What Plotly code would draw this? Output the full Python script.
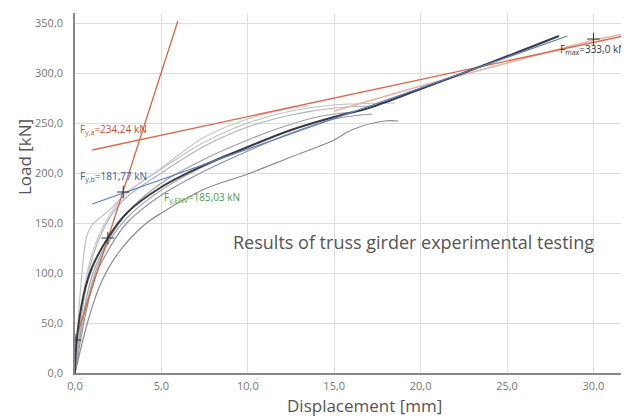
import plotly.graph_objects as go

# ---- data (displacement mm, load kN) ----
test_a_x = [0, 0.3, 0.7, 1.0, 2.0, 3.0, 5.0, 7.5, 10.0, 12.5, 15.0, 18.5]
test_a_y = [0, 80, 138, 148, 163, 180, 204, 231, 250, 262, 268, 270]
test_b_x = [0, 0.4, 1.0, 2.0, 3.0, 5.0, 7.5, 10.0, 12.5, 15.0, 17.0]
test_b_y = [0, 60, 115, 155, 176, 200, 227, 246, 258, 265, 267]
test_c_x = [0, 0.5, 1.0, 2.0, 3.0, 5.0, 7.5, 10.0, 12.0, 14.0, 16.0]
test_c_y = [0, 60, 98, 135, 160, 190, 214, 233, 246, 256, 261]
test_d_x = [0, 0.6, 1.2, 2.0, 3.0, 5.0, 7.5, 10.0, 12.5, 15.0, 17.2]
test_d_y = [0, 58, 98, 125, 150, 178, 202, 222, 240, 254, 259]
test_e_x = [0, 0.8, 1.5, 2.5, 4.0, 5.0, 7.5, 10.0, 12.5, 15.0, 16.0, 17.9, 18.7]
test_e_y = [0, 55, 90, 120, 148, 160, 184, 199, 216, 233, 243, 252, 252]
test_f_x = [0, 0.4, 1.0, 2.0, 3.0, 5.0, 7.5, 10.0, 12.0, 13.5]
test_f_y = [0, 70, 120, 158, 180, 205, 236, 254, 263, 267]
test_g_x = [0, 0.5, 1.2, 2.0, 3.0, 5.0, 7.5, 10.0, 12.5, 15.0]
test_g_y = [0, 55, 102, 132, 155, 183, 207, 226, 243, 256]

mean_x = [0, 0.1, 0.5, 1.0, 1.9, 3.0, 5.0, 7.5, 10.0, 12.5, 15.0, 17.0, 20.0, 24.0, 28.0]
mean_y = [0, 33, 78, 106, 135, 160, 186, 208, 226, 243, 256, 265, 284, 310, 337]

env_x = [15.0, 20.0, 25.0, 30.0, 32.0]
env_y = [262, 287, 310, 333, 340]

red_steep_x = [0.0, 5.95]
red_steep_y = [32, 352]
red_flat_x = [1.0, 32.0]
red_flat_y = [223, 338]
blue_x = [1.0, 28.5]
blue_y = [169, 337]

mark_x = [0.0, 1.9, 2.79, 30.0]
mark_y = [33, 135, 181, 334]

x_ticks = [0, 5, 10, 15, 20, 25, 30]
y_ticks = [0, 50, 100, 150, 200, 250, 300, 350]

fig = go.Figure()

tests = [
    (test_a_x, test_a_y, "#c2c2c2"),
    (test_b_x, test_b_y, "#a9b4c4"),
    (test_c_x, test_c_y, "#a0a0a0"),
    (test_d_x, test_d_y, "#8d94a8"),
    (test_e_x, test_e_y, "#8a8a8a"),
    (test_f_x, test_f_y, "#c8c8c8"),
    (test_g_x, test_g_y, "#aaaaaa"),
]
for tx, ty, c in tests:
    fig.add_trace(go.Scatter(x=tx, y=ty, mode="lines",
                             line=dict(color=c, width=1.2, shape="spline"),
                             showlegend=False, hoverinfo="skip"))

fig.add_trace(go.Scatter(x=env_x, y=env_y, mode="lines",
                         line=dict(color="#e6b3a0", width=1.5), showlegend=False))
fig.add_trace(go.Scatter(x=red_steep_x, y=red_steep_y, mode="lines",
                         line=dict(color="#d9663f", width=1.3), showlegend=False))
fig.add_trace(go.Scatter(x=red_flat_x, y=red_flat_y, mode="lines",
                         line=dict(color="#e0674a", width=1.3), showlegend=False))
fig.add_trace(go.Scatter(x=mean_x, y=mean_y, mode="lines",
                         line=dict(color="#3a3a44", width=2, shape="spline"),
                         showlegend=False))
fig.add_trace(go.Scatter(x=blue_x, y=blue_y, mode="lines",
                         line=dict(color="#5b7fc0", width=1.3), showlegend=False))
fig.add_trace(go.Scatter(x=mark_x, y=mark_y, mode="markers",
                         marker=dict(symbol="cross-thin", size=9,
                                     line=dict(color="#333333", width=1)),
                         showlegend=False))

fs = 10
fig.add_annotation(x=0.15, y=244, text="F<sub>y,a</sub>=234,24 kN", showarrow=False,
                   xanchor="left", font=dict(size=fs, color="#c8502a"))
fig.add_annotation(x=0.15, y=197, text="F<sub>y,b</sub>=181,77 kN", showarrow=False,
                   xanchor="left", font=dict(size=fs, color="#3b5a9a"))
fig.add_annotation(x=5.05, y=176, text="F<sub>y,ENV</sub>=185,03 kN", showarrow=False,
                   xanchor="left", font=dict(size=fs, color="#4c9a44"))
fig.add_annotation(x=32, y=324, text="F<sub>max</sub>=333,0 kN", showarrow=False,
                   xanchor="right", font=dict(size=fs, color="#333333"))
fig.add_annotation(x=19.6, y=131, text="Results of truss girder experimental testing",
                   showarrow=False, font=dict(size=18, color="#555555"))

# axis titles (placed as in the reference)
fig.add_annotation(xref="paper", yref="paper", x=-0.092, y=0.6,
                   xanchor="center", yanchor="middle",
                   text="Load [kN]", textangle=-90, showarrow=False,
                   font=dict(size=17, color="#555555"))
fig.add_annotation(xref="paper", yref="paper", x=0.524, y=-0.089,
                   xanchor="center", yanchor="middle",
                   text="Displacement [mm]", showarrow=False,
                   font=dict(size=17, color="#555555"))

# the page adds an 8 px body margin, so the figure is 8 px smaller each way
fig.update_layout(
    width=621, height=409,
    margin=dict(l=67, r=1, t=5, b=44),
    paper_bgcolor="white", plot_bgcolor="white",
    font=dict(family="Open Sans", color="#555555"),
    separators=",.",
)
fig.update_xaxes(range=[0, 32], tickvals=x_ticks, tickformat=".1f",
                 showgrid=True, gridcolor="#dedede", gridwidth=1,
                 showline=True, linecolor="#888888", linewidth=1.5,
                 zeroline=False, ticks="", ticklabelstandoff=2,
                 tickfont=dict(size=11, color="#777777"))
fig.update_yaxes(range=[0, 360], tickvals=y_ticks, tickformat=".1f",
                 showgrid=True, gridcolor="#dedede", gridwidth=1,
                 showline=True, linecolor="#888888", linewidth=1.5,
                 zeroline=False, ticks="", ticklabelstandoff=8,
                 tickfont=dict(size=11, color="#777777"))

fig.write_html("out.html")
